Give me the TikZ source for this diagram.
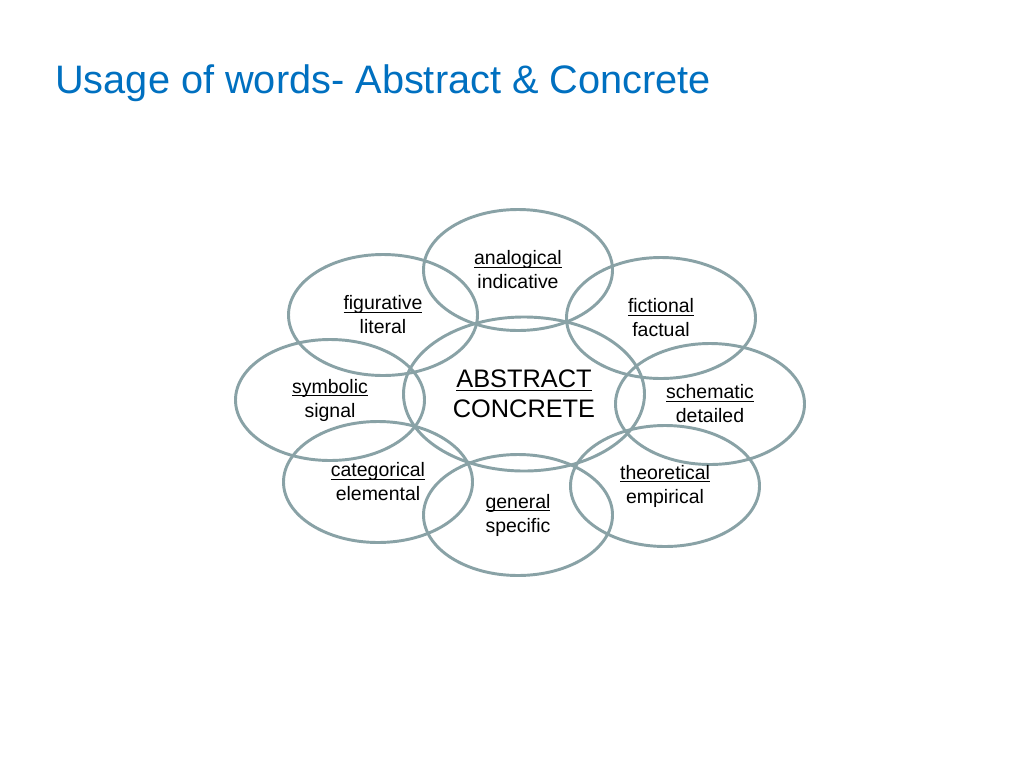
\documentclass[tikz,border=0pt]{standalone}
\usepackage{fontspec}
\setmainfont{Liberation Sans}
\usetikzlibrary{shapes.geometric}
\definecolor{titleblue}{RGB}{0,112,192}
\definecolor{ringgrey}{RGB}{137,162,166}
\newcommand\wordline[1]{\setbox0\hbox{#1}\rlap{\rule[-2.4pt]{\wd0}{0.8pt}}\box0}
\tikzset{
  ring/.style={draw=ringgrey,line width=2.2pt,ellipse,inner sep=0pt,
    minimum width=141.75pt,minimum height=90.75pt,align=center,
    font=\fontsize{14.6pt}{18pt}\selectfont},
  core/.style={ring,minimum width=180.75pt,minimum height=115.5pt,
    font=\fontsize{19pt}{22.5pt}\selectfont}
}
\begin{document}
\begin{tikzpicture}[x=0.75pt,y=-0.75pt]
  \useasboundingbox[fill=white] (0,0) rectangle (1024,768);
  % title
  \node[anchor=base west,inner sep=0pt,text=titleblue,
    font=\fontsize{29.8pt}{34pt}\selectfont] (title) at (55,93)
    {Usage of words- Abstract \& Concrete};
  % centre
  \node[core] (abstract) at (524,394) {\wordline{ABSTRACT}\\CONCRETE};
  % surrounding pairs
  \node[ring] (analog) at (518,270) {\wordline{analogical}\\indicative};
  \node[ring] (figur) at (383,315) {\wordline{figurative}\\literal};
  \node[ring] (fiction) at (661,318) {\wordline{fictional}\\factual};
  \node[ring] (symbol) at (330,400) {\wordline{symbolic}\\signal};
  \node[ring] (schema) at (710,404) {\wordline{schematic}\\detailed};
  \node[ring] (categ) at (378,482) {\wordline{categorical}\\elemental};
  \node[ring] (general) at (518,515) {\wordline{general}\\specific};
  \node[ring] (theory) at (665,486) {\wordline{theoretical}\\empirical};
\end{tikzpicture}
\end{document}
